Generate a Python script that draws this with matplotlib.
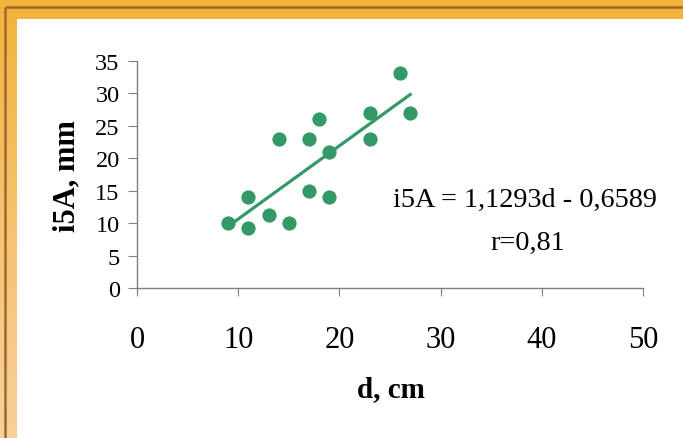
import numpy as np
import matplotlib
matplotlib.use("Agg")
import matplotlib.pyplot as plt
from matplotlib.colors import LinearSegmentedColormap
from matplotlib.patches import Rectangle

# data
d_cm = [9, 11, 11, 13, 14, 15, 17, 17, 18, 19, 19, 23, 23, 26, 27]
i5a_mm = [10, 9.2, 14, 11.3, 23, 10, 15, 23, 26, 21, 14, 23, 27, 33.2, 27]
slope, intercept = 1.1293, -0.6589
x_ticks = [0, 10, 20, 30, 40, 50]
y_ticks = [0, 5, 10, 15, 20, 25, 30, 35]

plt.rcParams['font.family'] = ['Liberation Serif', 'DejaVu Serif']

W, H = 683, 439
fig = plt.figure(figsize=(W / 100, H / 100), dpi=100)

# orange frame with gradient on the left band
bg = fig.add_axes([0, 0, 1, 1], zorder=-1)
bg.set_xlim(0, W)
bg.set_ylim(H, 0)
bg.axis('off')
cmap = LinearSegmentedColormap.from_list('frame', ['#F2B33A', '#F5C26E', '#F7D09C'])
grad = np.linspace(0, 1, 256).reshape(-1, 1)
bg.imshow(grad, cmap=cmap, extent=[0, W, H, 0], aspect='auto')
bg.add_patch(Rectangle((17, 20), W - 17, H - 20, color='white', lw=0))
bg.plot([5, W], [8, 8], color='#A0682C', lw=1.8, solid_capstyle='butt')
bg.plot([5, 5], [8, H], color='#A0682C', lw=1.8, solid_capstyle='butt')

# main chart
ax = fig.add_axes([137 / W, 1 - 289 / H, (643 - 137) / W, (289 - 62) / H])
ax.scatter(d_cm, i5a_mm, s=105, color='#339966', zorder=3, linewidths=0)
xfit = np.array([min(d_cm), max(d_cm)])
ax.plot(xfit, slope * xfit + intercept, color='#339966', lw=2.3, zorder=2)

ax.set_xlim(0, 50)
ax.set_ylim(0, 35)
ax.set_xticks(x_ticks)
ax.set_yticks(y_ticks)
for s in ['top', 'right']:
    ax.spines[s].set_visible(False)
for s in ['left', 'bottom']:
    ax.spines[s].set_color('#7F7F7F')
    ax.spines[s].set_linewidth(1.0)
ax.tick_params(axis='x', direction='out', length=6, color='#7F7F7F', pad=21, labelsize=22)
ax.tick_params(axis='y', direction='out', length=6.5, color='#7F7F7F', pad=6, labelsize=17.5)

ax.text(38.3, 13.6, 'i5A = 1,1293d - 0,6589', ha='center', va='center', fontsize=20.3)
ax.text(38.6, 7.0, 'r=0,81', ha='center', va='center', fontsize=20.3)

fig.text(391 / W, 1 - 390 / H, 'd, cm', ha='center', va='center', fontsize=21, fontweight='bold')
fig.text(67 / W, 1 - 176 / H, 'i5A, mm', ha='center', va='center', rotation=90,
         fontsize=22, fontweight='bold')

fig.savefig('out.png', dpi=100)
